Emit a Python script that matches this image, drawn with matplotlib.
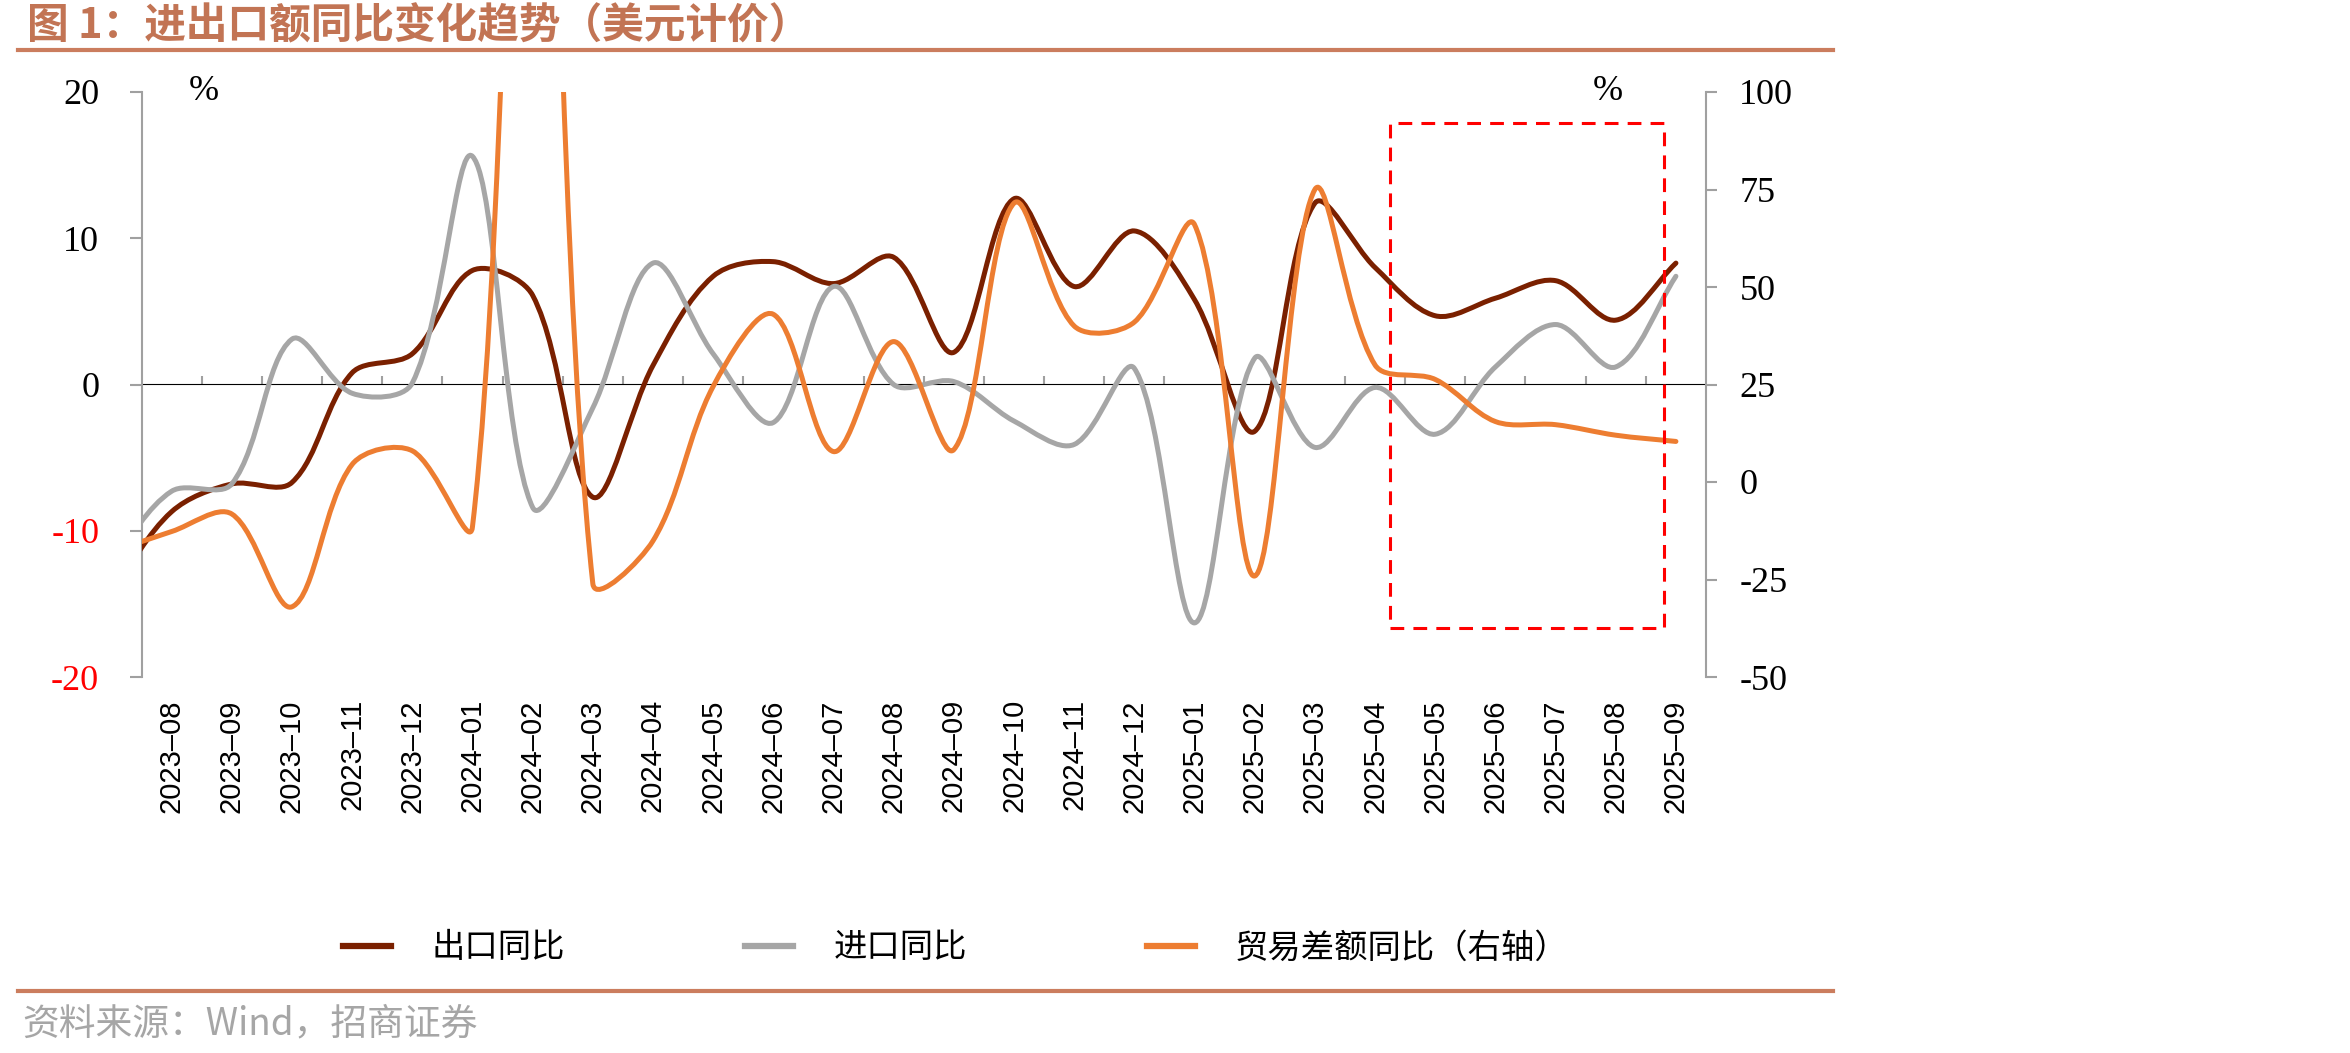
import numpy as np
import matplotlib.pyplot as plt
from matplotlib.path import Path
from matplotlib.patches import PathPatch, Rectangle
from matplotlib.lines import Line2D

plt.rcParams['font.family'] = ['Noto Sans CJK SC', 'DejaVu Sans']

# monthly data, 2023-07 is only there so the line runs in from the left edge
months = ['2023-07', '2023-08', '2023-09', '2023-10', '2023-11', '2023-12',
          '2024-01', '2024-02', '2024-03', '2024-04', '2024-05', '2024-06',
          '2024-07', '2024-08', '2024-09', '2024-10', '2024-11', '2024-12',
          '2025-01', '2025-02', '2025-03', '2025-04', '2025-05', '2025-06',
          '2025-07', '2025-08', '2025-09']
export_yoy = [-14.2, -8.7, -6.8, -6.7, 0.8, 2.1, 7.8, 6.1, -7.7, 1.3, 7.4, 8.4,
              6.9, 8.7, 2.2, 12.7, 6.7, 10.5, 5.8, -3.2, 12.4, 8.0, 4.7, 5.9,
              7.1, 4.4, 8.3]
import_yoy = [-12.1, -7.3, -6.8, 3.1, -0.6, 0.1, 15.6, -8.4, -1.6, 8.3, 2.1, -2.6,
              6.7, 0.0, 0.2, -2.5, -4.1, 1.1, -16.3, 1.8, -4.3, -0.2, -3.4, 1.2,
              4.1, 1.2, 7.4]
balance_yoy = [-18.0, -12.7, -8.2, -32.0, 4.5, 8.0, -11.5, 270.0, -26.0, -15.1, 24.5,
               43.0, 7.8, 36.0, 8.3, 71.5, 40.0, 41.0, 66.0, -24.1, 75.0, 30.0,
               26.3, 15.5, 14.7, 12.0, 10.4]

series_names = ['出口同比', '进口同比', '贸易差额同比（右轴）']
colors = ['#7A2000', '#A6A6A6', '#ED7D31']
grey = '#A0A0A0'

x = np.arange(len(months)) - 1


def smooth_path(ax, xs, ys, f=1/3.):
    # excel style smoothed line, control points worked out in screen space
    pts = ax.transData.transform(np.column_stack([xs, ys]))
    n = len(pts)
    verts = [pts[0]]
    codes = [Path.MOVETO]
    for i in range(n - 1):
        p0 = pts[i - 1] if i > 0 else pts[i]
        p1 = pts[i]
        p2 = pts[i + 1]
        p3 = pts[i + 2] if i + 2 < n else pts[i + 1]
        d01 = np.hypot(*(p1 - p0))
        d12 = np.hypot(*(p2 - p1))
        d23 = np.hypot(*(p3 - p2))
        c1 = p1 + (p2 - p0) * f * d12 / (d01 + d12)
        c2 = p2 - (p3 - p1) * f * d12 / (d12 + d23)
        verts += [c1, c2, p2]
        codes += [Path.CURVE4] * 3
    verts = ax.transData.inverted().transform(np.array(verts))
    return Path(verts, codes)


W, H = 2350, 1053
fig = plt.figure(figsize=(W / 100, H / 100), dpi=100)
ax = fig.add_axes([141.5 / W, 1 - 677 / H, (1706 - 141.5) / W, (677 - 92) / H])
ax.set_xlim(-0.5, 25.5)
ax.set_ylim(-20, 20)
ax2 = ax.twinx()
ax2.set_ylim(-50, 100)

for a in (ax, ax2):
    for s in ('top', 'bottom'):
        a.spines[s].set_visible(False)
ax.spines['right'].set_visible(False)
ax2.spines['left'].set_visible(False)
ax.spines['left'].set_color(grey)
ax.spines['left'].set_linewidth(1.5)
ax2.spines['right'].set_color(grey)
ax2.spines['right'].set_linewidth(1.5)

# zero line with category tick marks
sec = ax.secondary_xaxis(0.5)
sec.set_xticks(np.arange(0.5, 25, 1))
sec.tick_params(length=5.5, width=1.5, color=grey, direction='out',
                labelbottom=False, labeltop=False)
sec.spines['bottom'].set_color(grey)
sec.spines['bottom'].set_linewidth(1.5)

ax.add_patch(PathPatch(smooth_path(ax, x, export_yoy), fill=False, lw=3.6,
                       edgecolor=colors[0], capstyle='round', joinstyle='round', zorder=3))
ax.add_patch(PathPatch(smooth_path(ax, x, import_yoy), fill=False, lw=3.6,
                       edgecolor=colors[1], capstyle='round', joinstyle='round', zorder=4))
ax2.add_patch(PathPatch(smooth_path(ax2, x, balance_yoy), fill=False, lw=3.6,
                        edgecolor=colors[2], capstyle='round', joinstyle='round', zorder=3))

# x labels
ax.set_xticks(range(26))
ax.set_xticklabels([m.replace('-', '–') for m in months[1:]], rotation=90,
                   fontfamily='Liberation Sans', fontsize=21)
ax.tick_params(axis='x', length=0, pad=16)

ax.set_yticks([-20, -10, 0, 10, 20])
ax.set_yticklabels(['-20', '-10', '0', '10', '20'], fontfamily='Liberation Serif', fontsize=26)
for t in ax.get_yticklabels():
    if t.get_text().startswith('-'):
        t.set_color('#FF0000')
ax.tick_params(axis='y', direction='out', length=8.5, width=1.5, color=grey, pad=22)

ax2.set_yticks(range(-50, 101, 25))
ax2.set_yticklabels([str(v) for v in range(-50, 101, 25)], fontfamily='Liberation Serif', fontsize=26)
ax2.tick_params(axis='y', direction='out', length=8, width=1.5, color=grey, pad=16)

# highlight box
ax2.add_patch(Rectangle((20.25, -37.5), 24.8 - 20.25, 92 + 37.5, fill=False,
                        ec='#FF0000', lw=2.2, ls=(0, (4.5, 3)), zorder=6, clip_on=False))

fig.text(204 / W, 1 - 92 / H, '%', fontfamily='Liberation Serif', fontsize=26,
         ha='center', va='center')
fig.text(1608 / W, 1 - 92 / H, '%', fontfamily='Liberation Serif', fontsize=26,
         ha='center', va='center')

handles = [Line2D([], [], color=c, lw=4.5) for c in colors]
fig.legend(handles, series_names, loc='center', bbox_to_anchor=(956 / W, 1 - 948 / H),
           ncol=3, frameon=False, fontsize=24, handlelength=1.45, handletextpad=1.2,
           columnspacing=5.4)

fig.text(27 / W, 1 - 26 / H, '图 1：进出口额同比变化趋势（美元计价）', fontsize=30,
         fontweight='bold', color='#C27454', va='center')
fig.add_artist(Line2D([18 / W, 1833 / W], [1 - 50 / H] * 2, transform=fig.transFigure,
                      color='#CB7D5E', lw=3))
fig.add_artist(Line2D([18 / W, 1833 / W], [1 - 991 / H] * 2, transform=fig.transFigure,
                      color='#CB7D5E', lw=3))
fig.text(22 / W, 1 - 1024 / H, '资料来源：Wind，招商证券', fontsize=26.5,
         color='#A6A6A6', va='center')

fig.savefig('out.png', dpi=100)
